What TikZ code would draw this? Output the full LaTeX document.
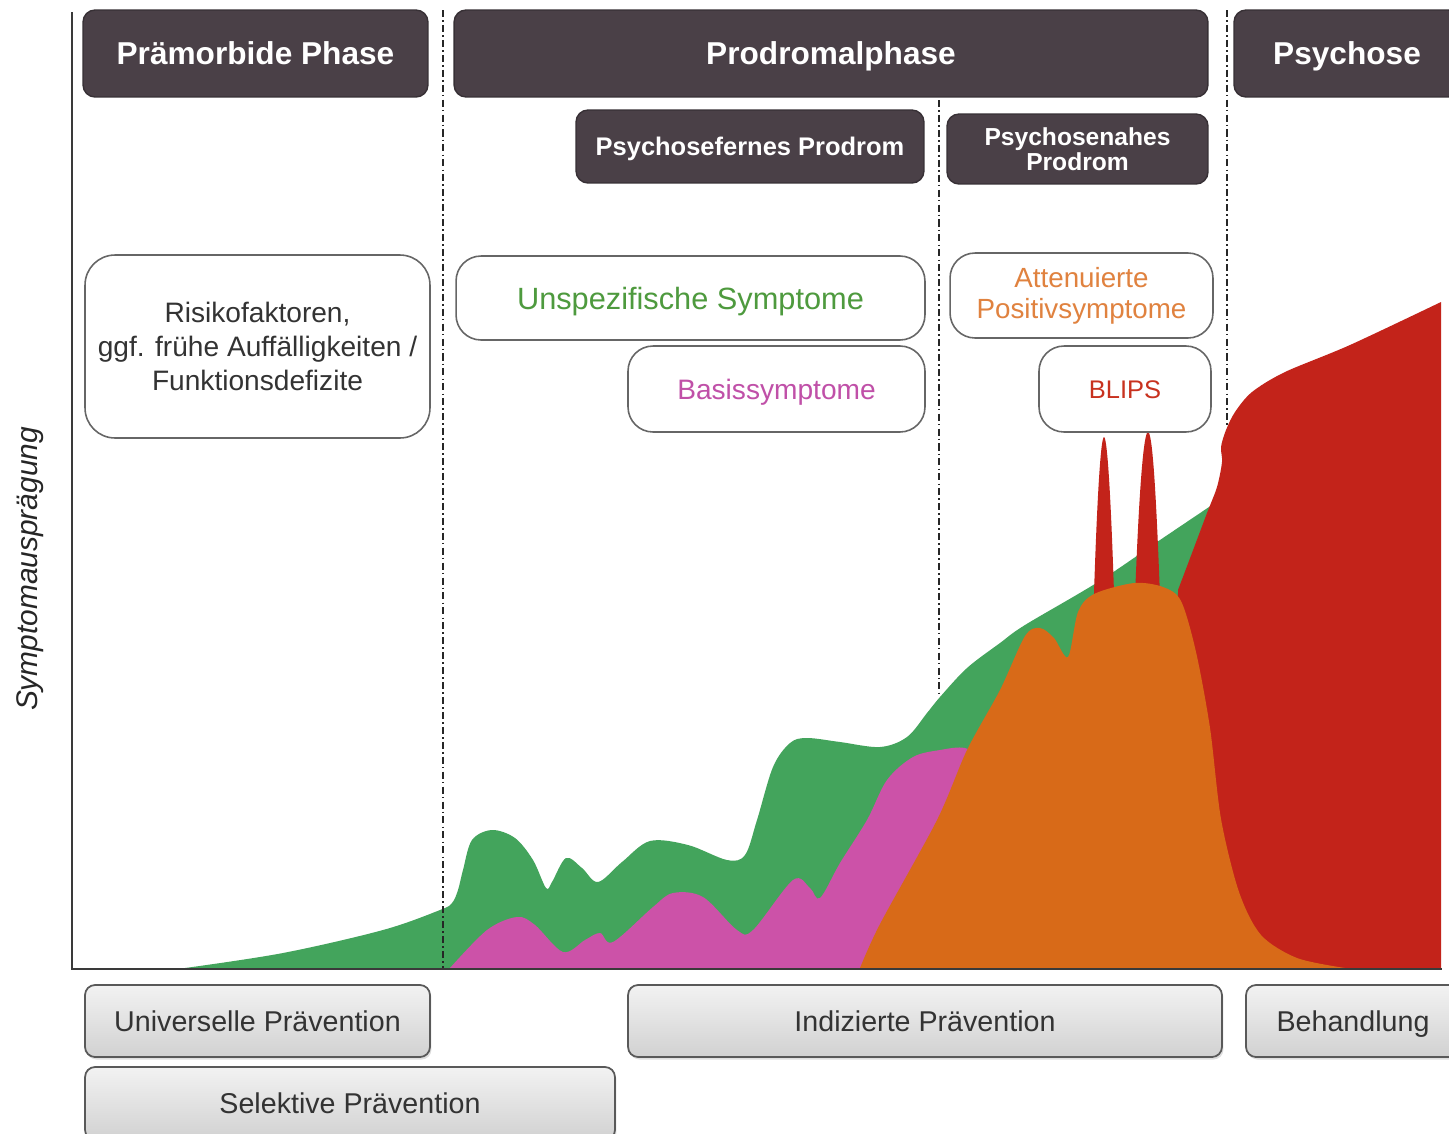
\documentclass[tikz,border=0pt]{standalone}
\usepackage{fontspec}
\setmainfont{Liberation Sans}
\usetikzlibrary{shadows}
\definecolor{hdrc}{HTML}{4A4047}
\definecolor{cgreen}{HTML}{43A45C}
\definecolor{cmag}{HTML}{CC52A8}
\definecolor{corange}{HTML}{D86A18}
\definecolor{cred}{HTML}{C3231A}
\definecolor{tgreen}{HTML}{4E9A3E}
\definecolor{tmag}{HTML}{C050A8}
\definecolor{torange}{HTML}{E0823F}
\definecolor{tred}{HTML}{C8321F}
\definecolor{axisc}{HTML}{3A3A3A}
\tikzset{
  oneline/.style={text height=#1, text depth=0pt},
  hdr/.style={rounded corners=0.24cm, fill=hdrc, draw=hdrc!75!black, line width=0.8pt,
    text=white, font=\bfseries\fontsize{18}{21}\selectfont, inner sep=0pt, align=center},
  subhdr/.style={hdr, font=\bfseries\fontsize{14.5}{14}\selectfont},
  wbox/.style={rounded corners=0.5cm, draw=black!60, line width=0.9pt, fill=white,
    align=center, inner sep=0pt, font=\fontsize{16}{19.6}\selectfont},
  pbox/.style={rounded corners=0.2cm, draw=black!65, line width=1pt, oneline=11.7pt,
    top color=white!95!black, bottom color=black!18, inner sep=0pt,
    drop shadow={opacity=0.25, shadow xshift=0.03cm, shadow yshift=-0.05cm},
    font=\fontsize{16.3}{19}\selectfont, text=black!80},
  phaseline/.style={draw=black!85, line width=1.3pt,
    dash pattern=on 4pt off 1.8pt on 0.9pt off 1.8pt},
  axisline/.style={draw=axisc, line width=1.3pt}
}
\begin{document}
\begin{tikzpicture}[x=0.02cm, y=-0.02cm]
\useasboundingbox (0,0) rectangle (1449,1133);
\clip (0,0) rectangle (1449,1133);
\fill[white] (0,0) rectangle (1449,1133);

% green area
\fill[cgreen] (185,968) -- plot[smooth, tension=0.55] coordinates {
 (185,968) (283,953) (383,930) (440,910) (452,903) (458,890) (463,870) (472,840)
 (492,830) (515,838) (533,860) (546,888) (552,882) (566,858) (582,868) (598,882)
 (622,862) (650,841) (688,845) (727,860) (745,855) (757,820) (773,767) (790,743)
 (807,738) (840,742) (880,747) (907,737) (927,713) (940,697) (967,668) (1000,643)
 (1025,625) (1098,582) (1160,540) (1212,505)} -- (1212,968) -- cycle;

% magenta area
\fill[cmag] (450,968) -- plot[smooth, tension=0.55] coordinates {
 (450,968) (487,930) (517,917) (535,925) (563,952) (585,940) (600,933) (613,942)
 (653,907) (673,893) (703,897) (737,930) (753,930) (793,880) (810,888) (820,898)
 (840,863) (867,820) (887,780) (913,757) (940,750) (965,748) (985,760)} -- (990,968) -- cycle;

% red main area
\fill[cred] (1175,968) -- (1178,590) -- plot[smooth, tension=0.5] coordinates {
 (1178,590) (1195,545) (1207,513) (1217,487) (1222,462) (1221,447) (1226,430)
 (1235,412) (1252,392) (1285,372) (1350,345) (1441,302)} -- (1441,968) -- cycle;

% red spikes (BLIPS)
\fill[cred] (1093,625) .. controls (1097,490) and (1101,437) .. (1104,437)
  .. controls (1107,437) and (1111,490) .. (1115,625) -- cycle;
\fill[cred] (1134,625) .. controls (1139,480) and (1144,432) .. (1148,432)
  .. controls (1152,432) and (1156,480) .. (1161,625) -- cycle;

% orange area
\fill[corange] (860,968) -- plot[smooth, tension=0.5] coordinates {
 (860,968) (880,924) (937,820) (967,750) (1000,690) (1025,636) (1040,628)
 (1054,638) (1068,657) (1078,612) (1094,594) (1134,583) (1163,587) (1181,601)
 (1196,652) (1210,728) (1221,819) (1239,892) (1261,935) (1297,958) (1345,968)} -- cycle;

% phase separators
\coordinate (s1t) at (443,10);  \coordinate (s1b) at (443,968);
\coordinate (s2t) at (939,100); \coordinate (s2b) at (939,696);
\coordinate (s3t) at (1227,10); \coordinate (s3b) at (1227,425);
\draw[phaseline] (s1t) -- (s1b);
\draw[phaseline] (s2t) -- (s2b);
\draw[phaseline] (s3t) -- (s3b);

% axes
\coordinate (ytop) at (72,12);
\coordinate (orig) at (72,969);
\coordinate (xend) at (1442,969);
\draw[axisline] (ytop) -- (orig) -- (xend);

\node[rotate=90, font=\itshape\fontsize{17}{20}\selectfont, text=black!85] (ylab) at (30,569) {Symptomausprägung};

% header boxes
\node[hdr, oneline=12.9pt, minimum width=6.9cm, minimum height=1.74cm] (pre) at (255.5,53.5) {Prämorbide Phase};
\node[hdr, oneline=12.9pt, minimum width=15.08cm, minimum height=1.74cm] (prod) at (831,53.5) {Prodromalphase};
\node[hdr, oneline=12.9pt, minimum width=4.52cm, minimum height=1.74cm] (psy) at (1347,53.5) {Psychose};
\node[subhdr, oneline=10.4pt, minimum width=6.96cm, minimum height=1.46cm] (fern) at (750,146.5) {Psychosefernes Prodrom};
\node[subhdr, minimum width=5.22cm, minimum height=1.4cm, font=\bfseries\fontsize{14}{13}\selectfont] (nah) at (1077.5,149) {Psychosenahes\\Prodrom};

% symptom boxes
\node[wbox, minimum width=6.9cm, minimum height=3.66cm, rounded corners=0.6cm, text=black!80] (risk) at (257.5,346.5)
  {Risikofaktoren,\\ggf. frühe Auffälligkeiten /\\Funktionsdefizite};
\node[wbox, oneline=12.6pt, minimum width=9.38cm, minimum height=1.68cm, text=tgreen, font=\fontsize{17.5}{20}\selectfont] (unsp) at (690.5,298) {Unspezifische Symptome};
\node[wbox, oneline=11.5pt, minimum width=5.94cm, minimum height=1.72cm, text=tmag] (basis) at (776.5,389) {Basissymptome};
\node[wbox, minimum width=5.26cm, minimum height=1.7cm, text=torange, font=\fontsize{15.8}{17.5}\selectfont] (att) at (1081.5,295.5) {Attenuierte\\Positivsymptome};
\node[wbox, oneline=10.4pt, minimum width=3.44cm, minimum height=1.72cm, text=tred, font=\fontsize{14.5}{17}\selectfont] (blips) at (1125,389) {BLIPS};

% prevention boxes
\node[pbox, minimum width=6.9cm, minimum height=1.44cm] (univ) at (257.5,1021) {Universelle Prävention};
\node[pbox, minimum width=10.6cm, minimum height=1.46cm] (sel) at (350,1103.5) {Selektive Prävention};
\node[pbox, minimum width=11.88cm, minimum height=1.44cm] (ind) at (925,1021) {Indizierte Prävention};
\node[pbox, minimum width=4.28cm, minimum height=1.44cm] (beh) at (1353,1021) {Behandlung};
\end{tikzpicture}
\end{document}
